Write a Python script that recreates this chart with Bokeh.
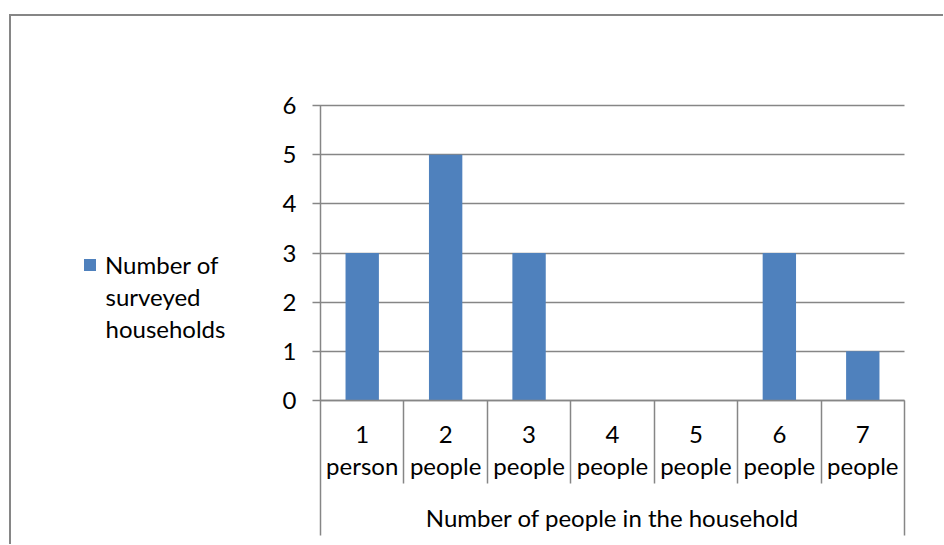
from bokeh.plotting import figure
from bokeh.models import (Range1d, FixedTicker, LinearAxis, Legend, LegendItem,
                          ColumnDataSource)
from bokeh.core.properties import value
from bokeh.embed import file_html
from bokeh.resources import INLINE

# ---- data ----
counts = ["1", "2", "3", "4", "5", "6", "7"]
units = ["person", "people", "people", "people", "people", "people", "people"]
households = [3, 5, 3, 0, 0, 3, 1]
y_ticks = [0, 1, 2, 3, 4, 5, 6]
series_name = ["Number of", "surveyed", "households"]
axis_title = "Number of people in the household"

GRAY = "#868686"
BLUE = "#4F81BD"
FONT = "Lato"
FS = "24px"

n = len(counts)
ymax = max(y_ticks)

# ---- layout in pixels ----
W, H = 932, 528              # canvas
PLOT_L, PLOT_R = 309, 893    # plot area, canvas px
PLOT_T, PLOT_B = 89, 384
px_x = (PLOT_R - PLOT_L) / n
px_y = (PLOT_B - PLOT_T) / ymax


def dx(cx):
    return (cx - PLOT_L) / px_x


def dy(cy):
    return (PLOT_B - cy) / px_y


x_range = Range1d(dx(0), dx(W))
y_range = Range1d(dy(H), dy(0))

p = figure(output_backend="svg", toolbar_location=None,
           frame_width=W, frame_height=H, min_border=0,
           x_range=x_range, y_range=y_range,
           x_axis_type=None, y_axis_type=None,
           margin=(14, 0, 0, 9),
           styles={"border-top": f"2px solid {GRAY}", "border-left": f"2px solid {GRAY}"})
p.outline_line_color = None
p.background_fill_color = "white"
p.border_fill_color = "white"
p.xgrid.visible = False
p.ygrid.visible = False

centers = [i + 0.5 for i in range(n)]
src = ColumnDataSource(dict(x=centers, top=households, num=counts, unit=units))

# y axis at the plot's left edge; inward ticks act as gridlines
yaxis = LinearAxis(fixed_location=0, bounds=(0, ymax), ticker=FixedTicker(ticks=y_ticks))
yaxis.level = "underlay"
yaxis.axis_line_color = GRAY
yaxis.axis_line_width = 1.5
yaxis.major_tick_line_color = GRAY
yaxis.major_tick_line_width = 1.5
yaxis.major_tick_out = 8
yaxis.major_tick_in = PLOT_R - PLOT_L
yaxis.minor_tick_line_color = None
yaxis.major_label_text_font = FONT
yaxis.major_label_text_font_size = FS
yaxis.major_label_text_color = "black"
yaxis.major_label_standoff = 16
p.add_layout(yaxis, "left")

# x axis: category separators drawn as ticks
xaxis = LinearAxis(fixed_location=0, bounds=(0, n),
                   ticker=FixedTicker(ticks=[0, n], minor_ticks=list(range(1, n))))
xaxis.axis_line_color = GRAY
xaxis.axis_line_width = 1.5
xaxis.major_tick_line_color = GRAY
xaxis.major_tick_line_width = 1.5
xaxis.minor_tick_line_color = GRAY
xaxis.minor_tick_line_width = 1.5
xaxis.major_tick_out = 135
xaxis.major_tick_in = 0
xaxis.minor_tick_out = 83
xaxis.minor_tick_in = 0
xaxis.major_label_text_font_size = "0px"
xaxis.major_label_text_color = None
p.add_layout(xaxis, "below")

bars = p.vbar(x="x", top="top", width=0.4, source=src, color=BLUE, line_color=None)

txt = dict(text_font=value(FONT), text_font_size=value(FS), text_color="black",
           text_baseline="alphabetic")
# category labels (two lines) and axis title
p.text(x="x", y=dy(418), text="num", source=src, text_align="center", **txt)
p.text(x="x", y=dy(449), text="unit", source=src, text_align="center", **txt)
p.text(x=[n / 2], y=[dy(501)], text=[axis_title], text_align="center", **txt)

legend = Legend(items=[LegendItem(label=series_name[0], renderers=[bars])],
                location=(71, 265), glyph_width=15, glyph_height=15,
                label_text_font=FONT, label_text_font_size=FS, label_standoff=8,
                label_text_color="black",
                border_line_color=None, background_fill_alpha=0,
                padding=0, margin=0, spacing=0)
p.add_layout(legend, "center")
# remaining lines of the wrapped series name
p.text(x=[dx(94)] * 2, y=[dy(280), dy(312)], text=series_name[1:], text_align="left", **txt)

open("out.html", "w").write(file_html(p, INLINE))
